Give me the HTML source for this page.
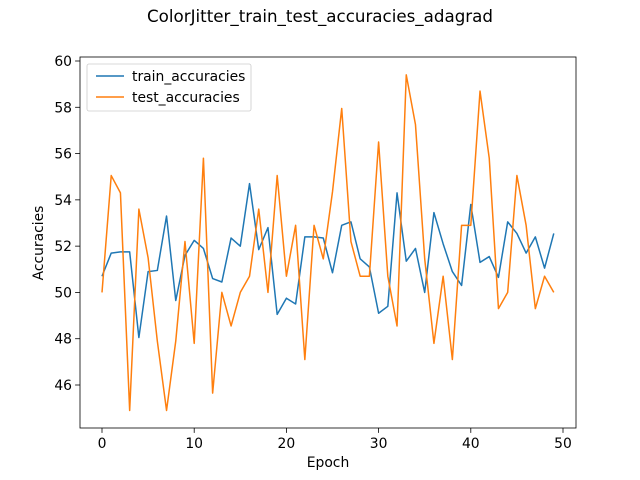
<!DOCTYPE html>
<html><head><meta charset="utf-8"><style>
body{margin:0;background:#fff}
svg{display:block;font-family:"DejaVu Sans","Liberation Sans",sans-serif}
</style></head><body>
<svg id="chart" width="640" height="480">
<rect width="640" height="480" fill="#fff"/>
<text x="320" y="22" font-size="16.7" text-anchor="middle">ColorJitter_train_test_accuracies_adagrad</text>
<g id="plot"></g>
</svg>
<script>
const epochs = Array.from({length:50},(_, i)=>i);
const trainAcc = [50.7,51.7,51.75,51.75,48.05,50.9,50.95,53.3,49.65,51.6,52.25,51.9,50.6,50.45,52.35,52.0,54.7,51.85,52.8,49.05,49.75,49.5,52.4,52.4,52.35,50.85,52.9,53.05,51.45,51.1,49.1,49.4,54.3,51.35,51.9,50.0,53.45,52.1,50.9,50.3,53.8,51.3,51.55,50.65,53.05,52.55,51.7,52.4,51.05,52.55];
const testAcc = [50.0,55.05,54.3,44.9,53.6,51.5,47.9,44.9,47.9,52.2,47.8,55.8,45.65,50.0,48.55,50.0,50.7,53.6,50.0,55.05,50.7,52.9,47.1,52.9,51.45,54.35,57.95,52.2,50.7,50.7,56.5,50.7,48.55,59.4,57.25,51.45,47.8,50.7,47.1,52.9,52.9,58.7,55.8,49.3,50.0,55.05,52.9,49.3,50.7,50.0];
const xTicks = [0,10,20,30,40,50];
const yTicks = [46,48,50,52,54,56,58,60];

const L=80,R=576,T=57,B=428;
const xs = v => 102 + (v-0)*(563-102)/50;
const ys = v => 385 - (v-46)*(385-61)/14;
const NS="http://www.w3.org/2000/svg";
const g=document.getElementById('plot');
function mk(tag,attrs){const e=document.createElementNS(NS,tag);for(const k in attrs)e.setAttribute(k,attrs[k]);g.appendChild(e);return e;}

xTicks.forEach(t=>{
  const l=mk('line',{x1:xs(t),x2:xs(t),y1:B,y2:B+4.9,stroke:'#000','stroke-width':0.8});
  
  
  const tx=mk('text',{x:xs(t),y:B+20,'font-size':13.9,'text-anchor':'middle'});
  tx.textContent=t;
  
  
});
yTicks.forEach(t=>{
  const l=mk('line',{x1:L-4.9,x2:L,y1:ys(t),y2:ys(t),stroke:'#000','stroke-width':0.8});
  
  
  const tx=mk('text',{x:L-8,y:ys(t)+5,'font-size':13.9,'text-anchor':'end'});
  tx.textContent=t;
  
  
});
function series(data,color,name){
  const p=mk('polyline',{points:data.map((v,i)=>xs(epochs[i])+','+ys(v)).join(' '),fill:'none',stroke:color,'stroke-width':1.5,'stroke-linejoin':'round'});
  
  
}
series(trainAcc,'#1f77b4','train-accuracies-line');
series(testAcc,'#ff7f0e','test-accuracies-line');
const fr=mk('rect',{x:L,y:T,width:R-L,height:B-T,fill:'none',stroke:'#000','stroke-width':0.8});


const xl=mk('text',{x:(L+R)/2,y:467,'font-size':13.9,'text-anchor':'middle'});
xl.textContent='Epoch';


const yl=mk('text',{x:0,y:0,'font-size':13.9,'text-anchor':'middle',transform:'translate(43,243) rotate(-90)'});
yl.textContent='Accuracies';


const lg=mk('rect',{x:87,y:64,width:164,height:47,rx:2,fill:'#fff','fill-opacity':0.8,stroke:'#ccc','stroke-width':0.8});


[['train_accuracies','#1f77b4',76],['test_accuracies','#ff7f0e',97]].forEach(([n,c,y])=>{
  const l=mk('line',{x1:96,x2:124,y1:y,y2:y,stroke:c,'stroke-width':1.5});
  
  
  const t=mk('text',{x:132,y:y+5,'font-size':13.9});
  t.textContent=n;
  
  
});
</script>
</body></html>
